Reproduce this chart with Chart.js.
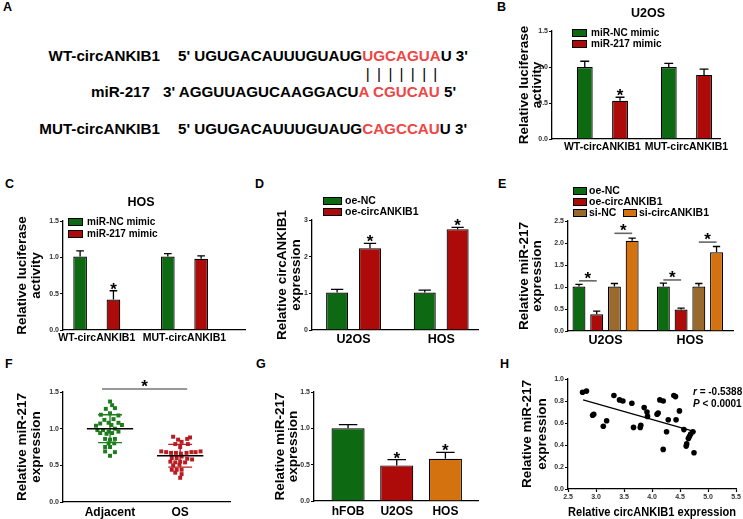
<!DOCTYPE html>
<html>
<head>
<meta charset="utf-8">
<script src="https://cdn.jsdelivr.net/npm/chart.js@4.4.1/dist/chart.umd.min.js"></script>
<style>
body { margin: 0; background: #fff; }
#fig { position: relative; width: 743px; height: 519px; overflow: hidden; font-family: 'Liberation Sans', Arial, sans-serif; font-weight: bold; color: #000; }
.box { position: absolute; }
.box canvas { display: block; }
.lab { position: absolute; font-size: 12.5px; line-height: 13px; }
.seq { position: absolute; font-size: 15.2px; line-height: 17px; white-space: pre; }
.red { color: #ee4545; }
.pb { position: relative; color: transparent; }
.pb i { position: absolute; left: 0; right: 0; top: 0; text-align: center; color: #000; font-style: normal; font-weight: normal; }
</style>
</head>
<body>
<div id="fig">
  <div class="lab" style="left:3px;top:1px">A</div>
  <div class="lab" style="left:497px;top:1px">B</div>
  <div class="lab" style="left:5px;top:178px">C</div>
  <div class="lab" style="left:255px;top:178px">D</div>
  <div class="lab" style="left:498px;top:178px">E</div>
  <div class="lab" style="left:5px;top:358px">F</div>
  <div class="lab" style="left:256px;top:358px">G</div>
  <div class="lab" style="left:500px;top:358px">H</div>

  <div class="seq" style="left:0;top:47px;width:160px;text-align:right">WT-circANKIB1</div>
  <div class="seq" style="left:178px;top:47px">5' UGUGACAUUUGUAUG<span class="red">UGCAGUA</span>U 3'</div>
  <div class="seq" style="left:178px;top:65px;color:transparent">5' UGUGACAUUUGUAUG<span class="pb">U<i>|</i></span><span class="pb">G<i>|</i></span><span class="pb">C<i>|</i></span><span class="pb">A<i>|</i></span><span class="pb">G<i>|</i></span><span class="pb">U<i>|</i></span><span class="pb">A<i>|</i></span></div>
  <div class="seq" style="left:0;top:83px;width:150px;text-align:right">miR-217</div>
  <div class="seq" style="left:163px;top:83px">3' AGGUUAGUCAAGGACU<span class="red">A CGUCAU</span> 5'</div>
  <div class="seq" style="left:0;top:120px;width:160px;text-align:right">MUT-circANKIB1</div>
  <div class="seq" style="left:178px;top:120px">5' UGUGACAUUUGUAUG<span class="red">CAGCCAU</span>U 3'</div>
</div>
<script>
// ---- data ----
const reporterCats = ['WT-circANKIB1', 'MUT-circANKIB1'];
const u2osNC = [1.0, 1.0];
const u2osNCErr = [0.08, 0.05];
const u2osMimic = [0.53, 0.89];
const u2osMimicErr = [0.05, 0.08];
const u2osStars = [true, false];
const hosNC = [1.01, 1.01];
const hosNCErr = [0.08, 0.04];
const hosMimic = [0.42, 0.98];
const hosMimicErr = [0.12, 0.04];
const hosStars = [true, false];

const cellLines = ['U2OS', 'HOS'];
const circNC = [1.02, 1.02];
const circNCErr = [0.09, 0.07];
const circOE = [2.23, 2.75];
const circOEErr = [0.13, 0.05];
const circStars = [true, true];

const mirOeNC = [1.01, 1.01];
const mirOeNCErr = [0.05, 0.08];
const mirOeCirc = [0.38, 0.49];
const mirOeCircErr = [0.07, 0.03];
const mirSiNC = [1.01, 1.01];
const mirSiNCErr = [0.07, 0.07];
const mirSiCirc = [2.05, 1.79];
const mirSiCircErr = [0.06, 0.13];
// significance bars in E: group, two datasets, height
const sigE = [
  {group: 0, a: 0, b: 1, y: 1.14},
  {group: 0, a: 2, b: 3, y: 2.22},
  {group: 1, a: 0, b: 1, y: 1.16},
  {group: 1, a: 2, b: 3, y: 2.02}
];

const tissueCats = ['Adjacent', 'OS'];
const adjOff = [0, 0.03, -0.06, 0.07, -0.13, 0, 0.12, -0.08, 0.05, -0.14, -0.02, 0.12, -0.2, 0.02, 0.17, 0.07,
  -0.18, -0.1, -0.02, 0.12, -0.14, -0.05, 0.03, -0.07, 0, 0.07, -0.02, 0.06, -0.07, 0, -0.07, 0.07, 0];
const adjVal = [1.37, 1.32, 1.27, 1.28, 1.19, 1.21, 1.18, 1.12, 1.13, 1.07, 1.08, 1.08, 1.04, 1.05, 1.05, 1.0,
  0.98, 0.98, 0.96, 0.96, 0.94, 0.93, 0.94, 0.86, 0.85, 0.86, 0.80, 0.80, 0.75, 0.75, 0.69, 0.68, 0.63];
const osOff = [-0.1, 0.14, 0.1, -0.03, 0.02, -0.07, 0.11, 0, -0.27, -0.2, -0.13, -0.06, 0.01, 0.09, 0.16, 0.22, 0.29,
  -0.12, -0.05, 0.02, 0.1, 0.17, -0.14, -0.07, 0, 0.07, -0.1, -0.01, -0.12, -0.05, 0.02, -0.07, 0.02, 0];
const osVal = [0.89, 0.88, 0.86, 0.85, 0.82, 0.79, 0.79, 0.75, 0.69, 0.68, 0.67, 0.67, 0.66, 0.67, 0.68, 0.68, 0.69,
  0.60, 0.60, 0.62, 0.59, 0.58, 0.55, 0.54, 0.55, 0.54, 0.50, 0.51, 0.44, 0.44, 0.44, 0.40, 0.38, 0.33];
const tissueMean = [1.0, 0.63];
const tissueSD = [0.19, 0.155];

const lineCats = ['hFOB', 'U2OS', 'HOS'];
const lineVal = [1.0, 0.49, 0.58];
const lineErr = [0.05, 0.08, 0.09];
const lineStars = [false, true, true];

const corrX = [2.76, 2.83, 2.94, 2.96, 3.13, 3.19, 3.32, 3.42, 3.48, 3.64, 3.67, 3.79, 3.80, 3.86, 3.91, 3.92, 4.09, 4.11,
  4.14, 4.20, 4.20, 4.26, 4.29, 4.39, 4.42, 4.43, 4.49, 4.57, 4.61, 4.62, 4.65, 4.67, 4.69, 4.73, 4.75];
const corrY = [0.88, 0.89, 0.67, 0.68, 0.57, 0.62, 0.85, 0.81, 0.80, 0.78, 0.56, 0.56, 0.58, 0.74, 0.70, 0.66, 0.68, 0.69,
  0.81, 0.80, 0.36, 0.52, 0.63, 0.85, 0.84, 0.63, 0.71, 0.54, 0.39, 0.41, 0.46, 0.48, 0.50, 0.52, 0.33];
const trendX = [2.77, 4.78];
const trendY = [0.81, 0.52];

// ---- colours ----
const GREEN = '#0e6a12', RED = '#ad0a0a', BROWN = '#9a6a2c', ORANGE = '#d3720f';
const FONT = "'Liberation Sans', Arial, sans-serif";

Chart.defaults.font.family = FONT;
Chart.defaults.font.weight = 'bold';
Chart.defaults.color = '#000';
Chart.defaults.animation = false;

function hasFont(name) {
  const c = document.createElement('canvas').getContext('2d');
  c.font = '20px monospace';
  const a = c.measureText('WT-circANKIB1 mimic').width;
  c.font = '20px "' + name + '", monospace';
  return c.measureText('WT-circANKIB1 mimic').width !== a;
}
const catFont = hasFont('Liberation Sans Narrow')
  ? {family: "'Liberation Sans Narrow'", size: 12.5, weight: 'bold'}
  : {size: 10.5, weight: 'bold'};

// box = [left, top, width, height], area = [left, right, top, bottom] of the plot
function frame(box, area) {
  const div = document.createElement('div');
  div.className = 'box';
  div.style.cssText = 'left:' + box[0] + 'px;top:' + box[1] + 'px;width:' + box[2] + 'px;height:' + box[3] + 'px';
  const cv = document.createElement('canvas');
  cv.width = box[2];
  cv.height = box[3];
  div.appendChild(cv);
  document.getElementById('fig').appendChild(div);
  return {
    cv, ox: box[0], oy: box[1],
    padding: {left: 0, top: area[2] - box[1], right: box[0] + box[2] - area[1], bottom: 0},
    yWidth: area[0] - box[0],
    xHeight: box[1] + box[3] - area[3]
  };
}

const tickFont = {size: 7, weight: 'bold'};

function yAxis(f, min, max, step, digits, title, titleX, lh) {
  return {
    min, max,
    afterFit: s => { s.width = f.yWidth; },
    ticks: {stepSize: step, callback: v => v.toFixed(digits), font: tickFont, color: '#333', padding: 1},
    grid: {display: true, drawOnChartArea: false, drawTicks: true, tickLength: 3, tickWidth: 1.2, tickColor: '#000'},
    border: {display: true, color: '#000', width: 1.3},
    title: {display: true, text: title, color: '#000', font: {size: 13.5, weight: 'bold', lineHeight: lh},
      padding: {top: titleX - f.ox - 13.5 * lh / 2, bottom: 0}}
  };
}

// linear axis used as a category axis so group centres can sit off-centre
function catAxis(f, cats, min, max, font, pad) {
  return {
    type: 'linear', min, max, offset: false, bounds: 'data',
    afterFit: s => { s.height = f.xHeight; },
    afterBuildTicks: s => { s.ticks = cats.map((c, i) => ({value: i})); },
    ticks: {autoSkip: false, maxRotation: 0, minRotation: 0, callback: (v, i) => cats[i], font, color: '#000', padding: pad},
    grid: {display: false, drawTicks: false, offset: false},
    border: {display: true, color: '#000', width: 1.3}
  };
}

function barSet(label, vals, errs, stars, color) {
  return {
    label, data: vals.map((v, i) => ({x: i, y: v})), errors: errs, stars,
    backgroundColor: color, borderColor: '#000', borderWidth: 1.2
  };
}

function starAt(ctx, x, y) {
  ctx.fillStyle = '#000';
  ctx.font = 'bold 17px ' + FONT;
  ctx.textAlign = 'center';
  ctx.textBaseline = 'alphabetic';
  ctx.fillText('*', x, y);
}

const errorBars = {
  id: 'errorBars',
  afterDatasetsDraw(chart) {
    const ctx = chart.ctx, ys = chart.scales.y;
    chart.data.datasets.forEach((ds, di) => {
      if (!ds.errors) return;
      chart.getDatasetMeta(di).data.forEach((bar, i) => {
        const top = ys.getPixelForValue(ds.data[i].y + ds.errors[i]);
        const half = bar.width * 0.28;
        ctx.save();
        ctx.strokeStyle = '#000';
        ctx.lineWidth = 1.3;
        ctx.beginPath();
        ctx.moveTo(bar.x, bar.y);
        ctx.lineTo(bar.x, top);
        ctx.moveTo(bar.x - half, top);
        ctx.lineTo(bar.x + half, top);
        ctx.stroke();
        if (ds.stars && ds.stars[i]) starAt(ctx, bar.x, top + 4);
        ctx.restore();
      });
    });
  }
};

function keyPlugin(f, items) {
  return {
    id: 'key',
    afterDraw(chart) {
      const ctx = chart.ctx;
      ctx.save();
      items.forEach(k => {
        const ds = chart.data.datasets[k.ds];
        const x = k.x - f.ox, y = k.y - f.oy;
        ctx.fillStyle = ds.backgroundColor;
        ctx.fillRect(x, y - k.h / 2, k.w, k.h);
        ctx.strokeStyle = '#000';
        ctx.lineWidth = 1;
        ctx.strokeRect(x + 0.5, y - k.h / 2 + 0.5, k.w - 1, k.h - 1);
        ctx.fillStyle = '#000';
        ctx.font = 'bold ' + k.size + 'px ' + FONT;
        ctx.textAlign = 'left';
        ctx.textBaseline = 'middle';
        ctx.fillText(ds.label, x + k.w + k.gap, y + 0.5);
      });
      ctx.restore();
    }
  };
}

function textPlugin(f, items) {
  return {
    id: 'texts',
    afterDraw(chart) {
      const ctx = chart.ctx;
      ctx.save();
      ctx.fillStyle = '#000';
      ctx.textBaseline = 'middle';
      items.forEach(t => {
        let x = t.x - f.ox;
        const y = t.y - f.oy;
        if (t.align === 'center') {
          ctx.font = 'bold ' + t.size + 'px ' + FONT;
          ctx.textAlign = 'center';
          ctx.fillText(t.parts.map(p => p.s).join(''), x, y);
          return;
        }
        ctx.textAlign = 'left';
        t.parts.forEach(p => {
          ctx.font = (p.italic ? 'italic ' : '') + 'bold ' + t.size + 'px ' + FONT;
          ctx.fillText(p.s, x, y);
          x += ctx.measureText(p.s).width;
        });
      });
      ctx.restore();
    }
  };
}

function bracketPlugin(items, color) {
  return {
    id: 'brackets',
    afterDraw(chart) {
      const ctx = chart.ctx;
      ctx.save();
      items.forEach(b => {
        let x1, x2;
        if (b.group !== undefined) {
          x1 = chart.getDatasetMeta(b.a).data[b.group].x;
          x2 = chart.getDatasetMeta(b.b).data[b.group].x;
        } else {
          x1 = chart.scales.x.getPixelForValue(b.x1);
          x2 = chart.scales.x.getPixelForValue(b.x2);
        }
        const y = chart.scales.y.getPixelForValue(b.y);
        ctx.strokeStyle = color;
        ctx.lineWidth = 1.6;
        ctx.beginPath();
        ctx.moveTo(x1, y);
        ctx.lineTo(x2, y);
        ctx.stroke();
        starAt(ctx, (x1 + x2) / 2, y + 3);
      });
      ctx.restore();
    }
  };
}

const meanSD = {
  id: 'meanSD',
  afterDatasetsDraw(chart) {
    const ctx = chart.ctx, xs = chart.scales.x, ys = chart.scales.y;
    ctx.save();
    chart.data.datasets.forEach((ds, i) => {
      if (ds.mean === undefined) return;
      const cx = i + 1;
      const px = v => xs.getPixelForValue(v);
      const yHi = ys.getPixelForValue(ds.mean + ds.sd), yLo = ys.getPixelForValue(ds.mean - ds.sd);
      ctx.strokeStyle = ds.backgroundColor;
      ctx.lineWidth = 1.3;
      ctx.beginPath();
      ctx.moveTo(px(cx), yHi); ctx.lineTo(px(cx), yLo);
      ctx.moveTo(px(cx - 0.17), yHi); ctx.lineTo(px(cx + 0.17), yHi);
      ctx.moveTo(px(cx - 0.17), yLo); ctx.lineTo(px(cx + 0.17), yLo);
      ctx.stroke();
      const ym = ys.getPixelForValue(ds.mean);
      ctx.strokeStyle = '#000';
      ctx.lineWidth = 1.5;
      ctx.beginPath();
      ctx.moveTo(px(cx - 0.33), ym); ctx.lineTo(px(cx + 0.33), ym);
      ctx.stroke();
    });
    ctx.restore();
  }
};

function baseOptions(f, scales) {
  return {
    responsive: false,
    devicePixelRatio: 1,
    animation: false,
    layout: {padding: f.padding, autoPadding: false},
    plugins: {legend: {display: false}, tooltip: {enabled: false}},
    scales
  };
}

// ---- B: U2OS luciferase ----
const fB = frame([480, 0, 263, 165], [552, 720, 31, 139]);
new Chart(fB.cv, {
  type: 'bar',
  data: {datasets: [
    barSet('miR-NC mimic', u2osNC, u2osNCErr, null, GREEN),
    barSet('miR-217 mimic', u2osMimic, u2osMimicErr, u2osStars, RED)
  ]},
  options: Object.assign(baseOptions(fB, {
    x: catAxis(fB, reporterCats, -0.6, 1.4, catFont, 2),
    y: yAxis(fB, 0, 1.5, 0.5, 1, ['Relative luciferase', 'activity'], 524, 0.97)
  }), {datasets: {bar: {categoryPercentage: 0.84, barPercentage: 0.45}}}),
  plugins: [errorBars,
    keyPlugin(fB, [{ds: 0, x: 572, y: 33, w: 15, h: 8, gap: 4, size: 10}, {ds: 1, x: 572, y: 44, w: 15, h: 8, gap: 4, size: 10}]),
    textPlugin(fB, [{x: 648, y: 14, size: 12.5, align: 'center', parts: [{s: 'U2OS'}]}])]
});

// ---- C: HOS luciferase ----
const fC = frame([0, 165, 248, 180], [63, 245, 221, 330]);
new Chart(fC.cv, {
  type: 'bar',
  data: {datasets: [
    barSet('miR-NC mimic', hosNC, hosNCErr, null, GREEN),
    barSet('miR-217 mimic', hosMimic, hosMimicErr, hosStars, RED)
  ]},
  options: Object.assign(baseOptions(fC, {
    x: catAxis(fC, reporterCats, -0.385, 1.69, catFont, 2),
    y: yAxis(fC, 0, 1.5, 0.5, 1, ['Relative luciferase', 'activity'], 22, 1.05)
  }), {datasets: {bar: {categoryPercentage: 0.76, barPercentage: 0.41}}}),
  plugins: [errorBars,
    keyPlugin(fC, [{ds: 0, x: 68, y: 222, w: 15, h: 8, gap: 4, size: 10}, {ds: 1, x: 68, y: 234, w: 15, h: 8, gap: 4, size: 10}]),
    textPlugin(fC, [{x: 141, y: 203, size: 12.5, align: 'center', parts: [{s: 'HOS'}]}])]
});

// ---- D: circANKIB1 overexpression ----
const fD = frame([248, 165, 240, 180], [312, 478, 220, 330]);
new Chart(fD.cv, {
  type: 'bar',
  data: {datasets: [
    barSet('oe-NC', circNC, circNCErr, null, GREEN),
    barSet('oe-circANKIB1', circOE, circOEErr, circStars, RED)
  ]},
  options: Object.assign(baseOptions(fD, {
    x: catAxis(fD, cellLines, -0.474, 1.42, {size: 12.5, weight: 'bold'}, 2.5),
    y: yAxis(fD, 0, 3, 1, 0, ['Relative circANKIB1', 'expression'], 282, 1.05)
  }), {datasets: {bar: {categoryPercentage: 0.75, barPercentage: 0.67}}}),
  plugins: [errorBars,
    keyPlugin(fD, [{ds: 0, x: 323, y: 201, w: 19, h: 8, gap: 3, size: 10.5}, {ds: 1, x: 323, y: 212, w: 19, h: 8, gap: 3, size: 10.5}])]
});

// ---- E: miR-217 after oe / si ----
const fE = frame([488, 165, 255, 180], [568, 733, 221, 331]);
new Chart(fE.cv, {
  type: 'bar',
  data: {datasets: [
    barSet('oe-NC', mirOeNC, mirOeNCErr, null, GREEN),
    barSet('oe-circANKIB1', mirOeCirc, mirOeCircErr, null, RED),
    barSet('si-NC', mirSiNC, mirSiNCErr, null, BROWN),
    barSet('si-circANKIB1', mirSiCirc, mirSiCircErr, null, ORANGE)
  ]},
  options: Object.assign(baseOptions(fE, {
    x: catAxis(fE, cellLines, -0.445, 1.51, {size: 12.5, weight: 'bold'}, 2.5),
    y: yAxis(fE, 0, 2.5, 0.5, 1, ['Relative miR-217', 'expression'], 524, 1.0)
  }), {datasets: {bar: {categoryPercentage: 0.84, barPercentage: 0.73}}}),
  plugins: [errorBars, bracketPlugin(sigE, '#666'),
    keyPlugin(fE, [
      {ds: 0, x: 573, y: 191, w: 14, h: 8, gap: 2, size: 10.5},
      {ds: 1, x: 573, y: 202, w: 14, h: 8, gap: 2, size: 10.5},
      {ds: 2, x: 573, y: 213, w: 14, h: 8, gap: 2, size: 10.5},
      {ds: 3, x: 623, y: 213, w: 14, h: 8, gap: 2, size: 10.5}])]
});

// ---- F: tissue scatter ----
const fF = frame([0, 345, 248, 174], [63, 230, 392, 502]);
new Chart(fF.cv, {
  type: 'scatter',
  data: {datasets: [
    {label: 'Adjacent', data: adjVal.map((v, i) => ({x: 1 + adjOff[i], y: v})), mean: tissueMean[0], sd: tissueSD[0],
      backgroundColor: '#1d7d1d', borderWidth: 0, pointStyle: 'rect', pointRadius: 2.8},
    {label: 'OS', data: osVal.map((v, i) => ({x: 2 + osOff[i], y: v})), mean: tissueMean[1], sd: tissueSD[1],
      backgroundColor: '#b81c22', borderWidth: 0, pointStyle: 'rect', pointRadius: 2.8}
  ]},
  options: baseOptions(fF, {
    x: {
      type: 'linear', min: 0.33, max: 2.71, offset: false,
      afterFit: s => { s.height = fF.xHeight; },
      afterBuildTicks: s => { s.ticks = tissueCats.map((c, i) => ({value: i + 1})); },
      ticks: {autoSkip: false, maxRotation: 0, callback: (v, i) => tissueCats[i], font: {size: 12, weight: 'bold'}, color: '#000', padding: 3},
      grid: {display: false, drawTicks: false},
      border: {display: true, color: '#000', width: 1.3}
    },
    y: yAxis(fF, 0, 1.5, 0.5, 1, ['Relative miR-217', 'expression'], 22, 1.08)
  }),
  plugins: [meanSD, bracketPlugin([{x1: 0.886, x2: 2.1, y: 1.54}], '#777')]
});

// ---- G: cell lines ----
const fG = frame([248, 345, 240, 174], [314, 478, 392, 501]);
new Chart(fG.cv, {
  type: 'bar',
  data: {datasets: [barSet('miR-217', lineVal, lineErr, lineStars, [GREEN, RED, ORANGE])]},
  options: Object.assign(baseOptions(fG, {
    x: catAxis(fG, lineCats, -0.7, 2.67, {size: 12, weight: 'bold'}, 3),
    y: yAxis(fG, 0, 1.5, 0.5, 1, ['Relative miR-217', 'expression'], 280, 1.0)
  }), {datasets: {bar: {categoryPercentage: 0.85, barPercentage: 0.8}}}),
  plugins: [errorBars]
});

// ---- H: correlation ----
const fH = frame([488, 345, 255, 174], [568, 736, 379, 489]);
new Chart(fH.cv, {
  type: 'scatter',
  data: {datasets: [
    {label: 'samples', data: corrX.map((x, i) => ({x, y: corrY[i]})), backgroundColor: '#000', borderWidth: 0, pointRadius: 2.8},
    {label: 'fit', data: trendX.map((x, i) => ({x, y: trendY[i]})), showLine: true, pointRadius: 0, borderColor: '#000', borderWidth: 1.2}
  ]},
  options: baseOptions(fH, {
    x: {
      type: 'linear', min: 2.5, max: 5.5,
      afterFit: s => { s.height = fH.xHeight; },
      ticks: {stepSize: 0.5, callback: v => v.toFixed(1), font: tickFont, color: '#333', padding: 1, maxRotation: 0},
      grid: {display: true, drawOnChartArea: false, drawTicks: true, tickLength: 3, tickWidth: 1.2, tickColor: '#000'},
      border: {display: true, color: '#000', width: 1.3},
      title: {display: true, text: 'Relative circANKIB1 expression', color: '#000', font: {size: 12, weight: 'bold', lineHeight: 1.0}, padding: {top: 0, bottom: 0}}
    },
    y: yAxis(fH, 0, 1.0, 0.2, 1, ['Relative miR-217', 'expression'], 527, 1.12)
  }),
  plugins: [textPlugin(fH, [
    {x: 693, y: 392, size: 10, parts: [{s: 'r', italic: true}, {s: ' = -0.5388'}]},
    {x: 693, y: 404, size: 10, parts: [{s: 'P', italic: true}, {s: ' < 0.0001'}]}])]
});
</script>
</body>
</html>
